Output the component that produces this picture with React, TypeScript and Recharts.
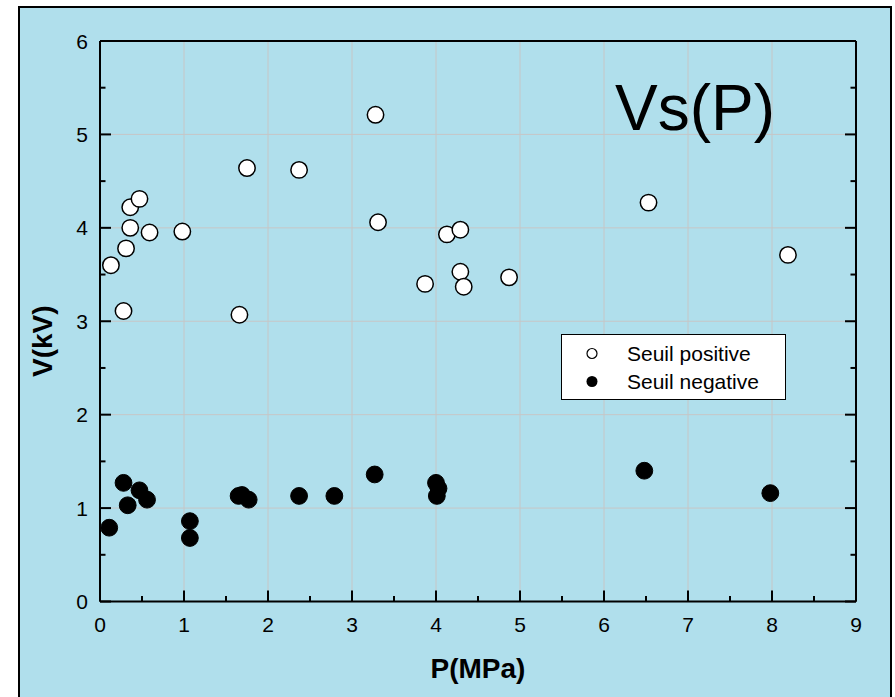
import React from 'react';
import { ScatterChart, Scatter, XAxis, YAxis, CartesianGrid, Legend, Customized } from 'recharts';

// ---- data ----
const positiveP = [0.13, 0.28, 0.31, 0.36, 0.36, 0.47, 0.59, 0.98, 1.66, 1.75, 2.37, 3.28, 3.31, 3.87, 4.13, 4.29, 4.29, 4.33, 4.87, 6.53, 8.19];
const positiveV = [3.60, 3.11, 3.78, 4.00, 4.22, 4.31, 3.95, 3.96, 3.07, 4.64, 4.62, 5.21, 4.06, 3.40, 3.93, 3.98, 3.53, 3.37, 3.47, 4.27, 3.71];

const negativeP = [0.11, 0.28, 0.33, 0.47, 0.56, 1.07, 1.07, 1.65, 1.69, 1.77, 2.37, 2.79, 3.27, 4.00, 4.03, 4.01, 6.48, 7.98];
const negativeV = [0.79, 1.27, 1.03, 1.19, 1.09, 0.86, 0.68, 1.13, 1.14, 1.09, 1.13, 1.13, 1.36, 1.27, 1.21, 1.13, 1.40, 1.16];

const xTicks = [0, 0.5, 1, 1.5, 2, 2.5, 3, 3.5, 4, 4.5, 5, 5.5, 6, 6.5, 7, 7.5, 8, 8.5, 9];
const yTicks = [0, 0.5, 1, 1.5, 2, 2.5, 3, 3.5, 4, 4.5, 5, 5.5, 6];
const xMajor = [0, 1, 2, 3, 4, 5, 6, 7, 8, 9];
const yMajor = [0, 1, 2, 3, 4, 5, 6];

const seriesNames = ['Seuil positive', 'Seuil negative'];
const titleText = 'Vs(P)';
const xLabel = 'P(MPa)';
const yLabel = 'V(kV)';

const positiveData = positiveP.map((p, i) => ({ p, v: positiveV[i] }));
const negativeData = negativeP.map((p, i) => ({ p, v: negativeV[i] }));

// ---- styles ----
const BG = '#B0DFEC';
const FONT = "Arial, 'Liberation Sans', sans-serif";
const MAJOR = 11;
const MINOR = 5.5;

const isMajor = (v: number) => Math.abs(v - Math.round(v)) < 1e-9;

const BottomTick = (props: any) => {
  const { x, y, payload } = props;
  const v = payload.value;
  const m = isMajor(v);
  return (
    <g>
      <line x1={x} x2={x} y1={y} y2={y - (m ? MAJOR : MINOR)} stroke="#000" strokeWidth={2} />
      {m && (
        <text x={x} y={y + 30} textAnchor="middle" fontSize={21} fontFamily={FONT} fill="#000">
          {v}
        </text>
      )}
    </g>
  );
};

const TopTick = (props: any) => {
  const { x, y, payload } = props;
  const m = isMajor(payload.value);
  return <line x1={x} x2={x} y1={y} y2={y + (m ? MAJOR : MINOR)} stroke="#000" strokeWidth={2} />;
};

const LeftTick = (props: any) => {
  const { x, y, payload } = props;
  const v = payload.value;
  const m = isMajor(v);
  return (
    <g>
      <line x1={x} x2={x + (m ? MAJOR : MINOR)} y1={y} y2={y} stroke="#000" strokeWidth={2} />
      {m && (
        <text x={x - 12} y={y + 7.5} textAnchor="end" fontSize={21} fontFamily={FONT} fill="#000">
          {v}
        </text>
      )}
    </g>
  );
};

const RightTick = (props: any) => {
  const { x, y, payload } = props;
  const m = isMajor(payload.value);
  return <line x1={x} x2={x - (m ? MAJOR : MINOR)} y1={y} y2={y} stroke="#000" strokeWidth={2} />;
};

const OpenDot = (props: any) => (
  <circle cx={props.cx} cy={props.cy} r={8.2} fill="#fff" stroke="#000" strokeWidth={1.5} />
);
const FilledDot = (props: any) => (
  <circle cx={props.cx} cy={props.cy} r={8.4} fill="#000" stroke="#000" strokeWidth={1} />
);

const LegendBox = () => (
  <div
    style={{
      width: 225,
      height: 66,
      boxSizing: 'border-box',
      border: '1.5px solid #000',
      background: '#fff',
      position: 'relative',
      fontFamily: FONT,
      fontSize: 21,
      color: '#000',
    }}
  >
    <svg width={225} height={66} style={{ position: 'absolute', left: -1.5, top: -1.5 }}>
      <circle cx={31} cy={19.5} r={5} fill="#fff" stroke="#000" strokeWidth={1.2} />
      <circle cx={31} cy={47.5} r={5.5} fill="#000" />
      <text x={66} y={27} fontSize={21} fontFamily={FONT} fill="#000">{seriesNames[0]}</text>
      <text x={66} y={55} fontSize={21} fontFamily={FONT} fill="#000">{seriesNames[1]}</text>
    </svg>
  </div>
);

const Title = () => (
  <text x={615} y={130} fontSize={64} fontFamily={FONT} fill="#000">
    {titleText}
  </text>
);

export default function App() {
  return (
    <div style={{ position: 'absolute', left: 0, top: 0, width: 895, height: 697, overflow: 'hidden', background: '#fff' }}>
      <div
        style={{
          position: 'absolute',
          left: 18,
          top: 6,
          width: 874,
          height: 730,
          boxSizing: 'border-box',
          border: '2px solid #000',
          background: BG,
        }}
      />
      <div style={{ position: 'absolute', left: 0, top: 0 }}>
        <ScatterChart width={895} height={697} margin={{ top: 40, left: 99, right: 38, bottom: 94.5 }}>
          <CartesianGrid
            stroke="#C6C6C6"
            strokeWidth={1}
            verticalValues={xMajor}
            horizontalValues={yMajor}
          />
          <XAxis
            dataKey="p"
            type="number"
            domain={[0, 9]}
            ticks={xTicks}
            interval={0}
            allowDataOverflow
            height={1}
            tickSize={0}
            tickMargin={0}
            tickLine={false}
            tick={<BottomTick />}
            axisLine={{ stroke: '#000', strokeWidth: 2 }}
            label={{
              content: (p: any) => {
                const vb = p.viewBox || {};
                return (
                  <text x={vb.x + vb.width / 2} y={678} textAnchor="middle" fontSize={28} fontWeight="bold" fontFamily={FONT} fill="#000">
                    {xLabel}
                  </text>
                );
              },
            }}
          />
          <XAxis
            xAxisId="top"
            orientation="top"
            type="number"
            domain={[0, 9]}
            ticks={xTicks}
            interval={0}
            allowDataOverflow
            height={1}
            tickSize={0}
            tickMargin={0}
            tickLine={false}
            tick={<TopTick />}
            axisLine={{ stroke: '#000', strokeWidth: 2 }}
          />
          <YAxis
            dataKey="v"
            type="number"
            domain={[0, 6]}
            ticks={yTicks}
            interval={0}
            allowDataOverflow
            width={1}
            tickSize={0}
            tickMargin={0}
            tickLine={false}
            tick={<LeftTick />}
            axisLine={{ stroke: '#000', strokeWidth: 2 }}
            label={{
              content: (p: any) => {
                const vb = p.viewBox || {};
                const cy = vb.y + vb.height / 2 + 20;
                return (
                  <text
                    x={52}
                    y={cy}
                    transform={`rotate(-90 52 ${cy})`}
                    textAnchor="middle"
                    fontSize={28}
                    fontWeight="bold"
                    fontFamily={FONT}
                    fill="#000"
                  >
                    {yLabel}
                  </text>
                );
              },
            }}
          />
          <YAxis
            yAxisId="right"
            orientation="right"
            type="number"
            domain={[0, 6]}
            ticks={yTicks}
            interval={0}
            allowDataOverflow
            width={1}
            tickSize={0}
            tickMargin={0}
            tickLine={false}
            tick={<RightTick />}
            axisLine={{ stroke: '#000', strokeWidth: 2 }}
          />
          <Scatter name={seriesNames[0]} data={positiveData} shape={<OpenDot />} isAnimationActive={false} />
          <Scatter name={seriesNames[1]} data={negativeData} shape={<FilledDot />} isAnimationActive={false} />
          <Legend
            layout="vertical"
            align="center"
            verticalAlign="middle"
            content={<LegendBox />}
            wrapperStyle={{ position: 'absolute', left: 561, top: 334, width: 225, height: 66 }}
          />
          <Customized component={<Title />} />
        </ScatterChart>
      </div>
    </div>
  );
}
